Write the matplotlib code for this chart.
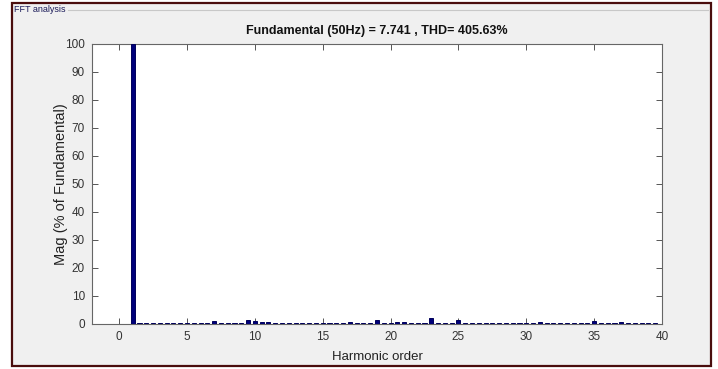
import matplotlib.pyplot as plt
from matplotlib.patches import Rectangle
from matplotlib.lines import Line2D

plt.rcParams['font.family'] = ['Liberation Sans', 'DejaVu Sans']

# harmonic orders (0.5 step resolution) and magnitudes in % of fundamental
orders = [0.0, 0.5, 1.0, 1.5, 2.0, 2.5, 3.0, 3.5, 4.0, 4.5,
          5.0, 5.5, 6.0, 6.5, 7.0, 7.5, 8.0, 8.5, 9.0, 9.5,
          10.0, 10.5, 11.0, 11.5, 12.0, 12.5, 13.0, 13.5, 14.0, 14.5,
          15.0, 15.5, 16.0, 16.5, 17.0, 17.5, 18.0, 18.5, 19.0, 19.5,
          20.0, 20.5, 21.0, 21.5, 22.0, 22.5, 23.0, 23.5, 24.0, 24.5,
          25.0, 25.5, 26.0, 26.5, 27.0, 27.5, 28.0, 28.5, 29.0, 29.5,
          30.0, 30.5, 31.0, 31.5, 32.0, 32.5, 33.0, 33.5, 34.0, 34.5,
          35.0, 35.5, 36.0, 36.5, 37.0, 37.5, 38.0, 38.5, 39.0, 39.5]
mags = [0.0, 0.0, 100.0, 0.2, 0.2, 0.2, 0.2, 0.2, 0.2, 0.2,
        0.2, 0.2, 0.2, 0.3, 1.0, 0.3, 0.5, 0.3, 0.5, 1.4,
        1.2, 0.7, 0.6, 0.4, 0.4, 0.3, 0.3, 0.3, 0.3, 0.2,
        0.2, 0.2, 0.2, 0.3, 0.6, 0.3, 0.3, 0.3, 1.3, 0.3,
        0.3, 0.8, 0.6, 0.3, 0.2, 0.3, 2.0, 0.3, 0.3, 0.3,
        1.6, 0.3, 0.3, 0.3, 0.5, 0.3, 0.3, 0.3, 0.5, 0.3,
        0.3, 0.3, 0.7, 0.3, 0.3, 0.3, 0.5, 0.3, 0.3, 0.3,
        0.9, 0.3, 0.3, 0.3, 0.8, 0.3, 0.3, 0.3, 0.5, 0.3]

title = 'Fundamental (50Hz) = 7.741 , THD= 405.63%'
xticks = [0, 5, 10, 15, 20, 25, 30, 35, 40]
yticks = [0, 10, 20, 30, 40, 50, 60, 70, 80, 90, 100]

fig = plt.figure(figsize=(7.18, 3.69), dpi=100, facecolor='white')

# outer panel border and "FFT analysis" group frame
fig.add_artist(Rectangle((12 / 718, 3 / 369), 699 / 718, 363 / 369,
                         transform=fig.transFigure, facecolor='#f0f0f0',
                         edgecolor='#4a0d0d', linewidth=1.6, zorder=0))
fig.add_artist(Line2D([68 / 718, 708 / 718], [1 - 10 / 369, 1 - 10 / 369],
                      transform=fig.transFigure, color='#c8c8c8', linewidth=0.8))
fig.text(14 / 718, 1 - 10 / 369, 'FFT analysis', fontsize=6.5, color='#1c1c5a',
         ha='left', va='center')

ax = fig.add_axes([92 / 718, 45 / 369, 570 / 718, 280 / 369])
ax.set_facecolor('white')
ax.bar(orders, mags, width=0.3, color='#00007a', edgecolor='#00005a',
       linewidth=0.7, zorder=3)

ax.set_xlim(-2, 40)
ax.set_ylim(0, 100)
ax.set_xticks(xticks)
ax.set_yticks(yticks)
ax.tick_params(direction='in', top=True, right=True, length=4, width=0.7,
               colors='#555555', labelcolor='#333333', labelsize=8.5, pad=5)
for s in ax.spines.values():
    s.set_color('#666666')
    s.set_linewidth(0.8)

ax.set_title(title, fontsize=9, fontweight='bold', color='#111111', pad=7)
ax.set_xlabel('Harmonic order', fontsize=9.5, color='#222222', labelpad=6)
ax.set_ylabel('Mag (% of Fundamental)', fontsize=10.5, color='#222222', labelpad=-2)

fig.savefig('out.png', dpi=100, facecolor=fig.get_facecolor())
